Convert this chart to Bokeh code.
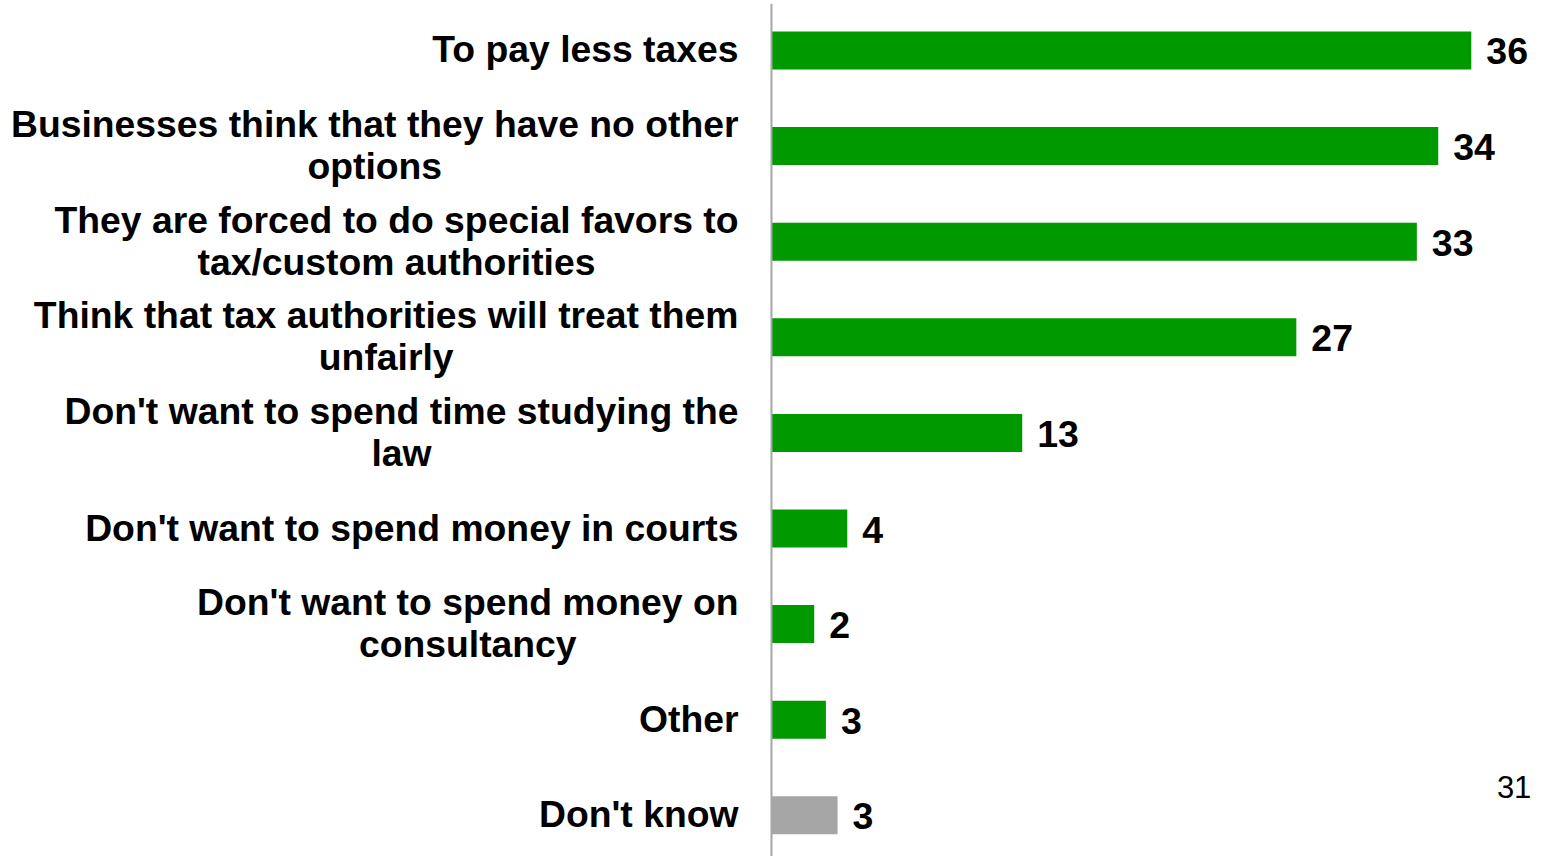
from bokeh.plotting import figure
from bokeh.models import ColumnDataSource, Range1d, Label, Span
from bokeh.core.properties import value
from bokeh.embed import file_html
from bokeh.resources import INLINE

categories = [
    "To pay less taxes",
    "Businesses think that they have no other\noptions",
    "They are forced to do special favors to\ntax/custom authorities",
    "Think that tax authorities will treat them\nunfairly",
    "Don't want to spend time studying the\nlaw",
    "Don't want to spend money in courts",
    "Don't want to spend money on\nconsultancy",
    "Other",
    "Don't know",
]
values = [36.0, 34.3, 33.2, 27.0, 12.9, 3.9, 2.2, 2.8, 3.4]
value_labels = ["36", "34", "33", "27", "13", "4", "2", "3", "3"]
bar_colors = ["#009900"] * 8 + ["#A6A6A6"]
page_number = "31"

FONT = "Liberation Sans"

pos = list(range(len(categories)))
src = ColumnDataSource(dict(y=pos, v=values, lab=value_labels, c=bar_colors,
                            cat=categories, zero=[0] * len(pos)))

p = figure(width=1540, height=856, output_backend="svg", toolbar_location=None,
           x_range=Range1d(-39.66, 39.56), y_range=Range1d(8.4308, -0.4916),
           min_border_left=0, min_border_right=0, min_border_top=3, min_border_bottom=0)
p.outline_line_color = None
p.xgrid.visible = False
p.ygrid.visible = False
p.xaxis.visible = False
p.yaxis.visible = False

p.hbar(y="y", right="v", left=0, height=0.3975, color="c", line_color=None, source=src)
p.add_layout(Span(location=0, dimension="height", line_color="#A6A6A6", line_width=2))

p.text(x="v", y="y", text="lab", source=src, x_offset=15, y_offset=1,
       text_font=value(FONT), text_font_style="bold", text_font_size="37.5px",
       text_baseline="middle", text_align="left", text_color="black")

p.text(x="zero", y="y", text="cat", source=src, x_offset=-33, y_offset=-1,
       anchor="center_right", text_align="center", text_baseline="middle",
       text_line_height=1.0,
       text_font=value(FONT), text_font_style="bold", text_font_size="37.3px",
       text_color="black")

p.add_layout(Label(x=39.09, y=7.709, text=page_number, text_font=FONT,
                   text_font_size="31px", text_align="right",
                   text_baseline="alphabetic", text_color="black"))

open("out.html", "w").write(file_html(p, INLINE))
